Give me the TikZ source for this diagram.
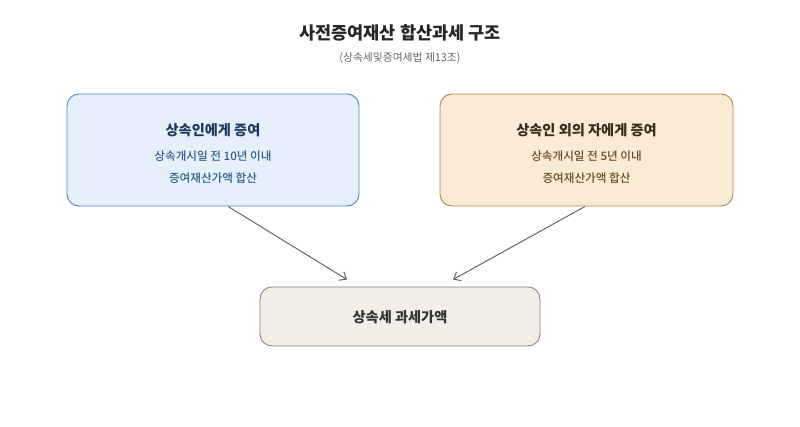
\documentclass[tikz,border=0pt]{standalone}
\usepackage{fontspec}
\setmainfont{Noto Sans CJK KR}
\newfontfamily\krmed{Noto Sans CJK KR Medium}
\usetikzlibrary{arrows.meta}
\definecolor{lbfill}{HTML}{E6F0FA}
\definecolor{lbdraw}{HTML}{4A86C8}
\definecolor{lbtitle}{HTML}{1E3A5F}
\definecolor{lbtext}{HTML}{2F5E8E}
\definecolor{rbfill}{HTML}{FAEBD7}
\definecolor{rbdraw}{HTML}{B5854A}
\definecolor{rbtitle}{HTML}{3D2A18}
\definecolor{rbtext}{HTML}{6B4A2A}
\definecolor{bbfill}{HTML}{F1EEE8}
\definecolor{bbdraw}{HTML}{8A8680}
\definecolor{arrowc}{HTML}{666666}
\tikzset{
  x=1pt,y=1pt,
  box/.style={rounded corners=12pt, line width=0.9pt, inner sep=0pt},
  conn/.style={draw=arrowc, line width=1pt, -{Straight Barb[length=6pt,width=10pt]}},
  boxtitle/.style={font=\fontsize{14.2}{16}\selectfont\bfseries},
  boxline/.style={font=\fontsize{11.6}{13}\selectfont\krmed},
}
\begin{document}
\begin{tikzpicture}
\useasboundingbox (0,0) rectangle (800,-427);
\fill[white] (0,0) rectangle (800,-427);
\node[font=\fontsize{17.5}{20}\selectfont\bfseries, text=black!85] (title) at (400,-33) {사전증여재산 합산과세 구조};
\node[font=\fontsize{10.8}{12}\selectfont, text=black!60] (sub) at (400,-58) {(상속세및증여세법 제13조)};
\node[box, fill=lbfill, draw=lbdraw, minimum width=292pt, minimum height=112pt] (L) at (213,-150) {};
\node[box, fill=rbfill, draw=rbdraw, minimum width=293pt, minimum height=112pt] (R) at (586.5,-150) {};
\node[box, fill=bbfill, draw=bbdraw, minimum width=280pt, minimum height=59pt] (B) at (400,-316.5) {};
\node[boxtitle, text=lbtitle] (Lt) at (213,-130) {상속인에게 증여};
\node[boxline, text=lbtext] (L1) at (213,-156) {상속개시일 전 10년 이내};
\node[boxline, text=lbtext] (L2) at (213,-178) {증여재산가액 합산};
\node[boxtitle, text=rbtitle] (Rt) at (586.5,-130) {상속인 외의 자에게 증여};
\node[boxline, text=rbtext] (R1) at (586.5,-156) {상속개시일 전 5년 이내};
\node[boxline, text=rbtext] (R2) at (586.5,-178) {증여재산가액 합산};
\node[boxtitle, text=black!80] (Bt) at (400,-317) {상속세 과세가액};
\draw[conn] ([xshift=15pt]L.south) -- ([xshift=-53pt,yshift=7pt]B.north);
\draw[conn] ([xshift=-1.5pt]R.south) -- ([xshift=53pt,yshift=7pt]B.north);
\end{tikzpicture}
\end{document}
